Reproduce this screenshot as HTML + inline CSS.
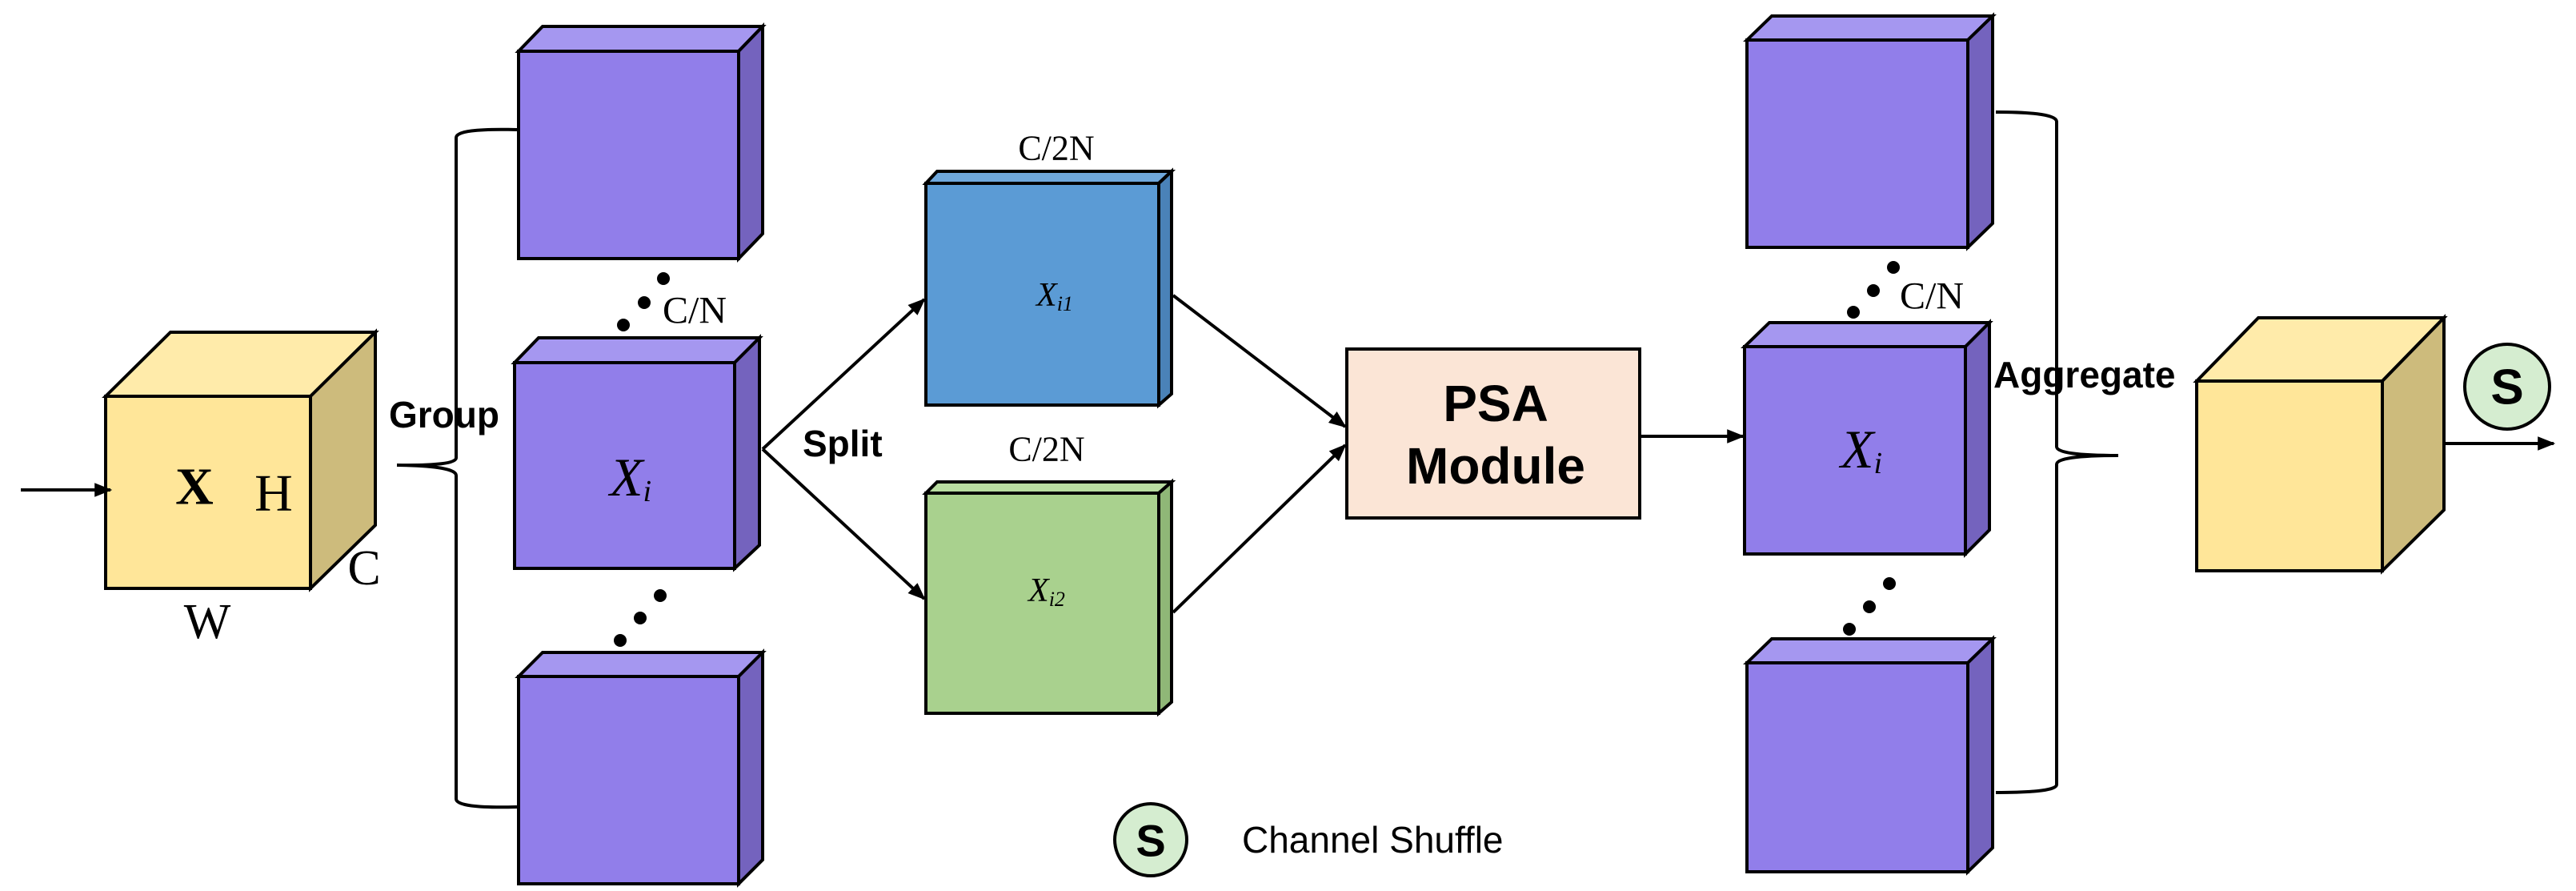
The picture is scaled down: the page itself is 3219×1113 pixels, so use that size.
<!DOCTYPE html>
<html><head><meta charset="utf-8"><style>html,body{margin:0;padding:0;background:#fff}svg{display:block}</style></head><body>
<svg width="3219" height="1113" viewBox="0 0 3219 1113" xmlns="http://www.w3.org/2000/svg">
<defs>
<marker id="ah" viewBox="0 0 10 10" refX="9" refY="5" markerWidth="8" markerHeight="8" markerUnits="userSpaceOnUse" orient="auto"><path d="M0,0 L10,5 L0,10 z" fill="#000"/></marker>
<marker id="ah2" viewBox="0 0 10 10" refX="9" refY="5" markerWidth="22" markerHeight="22" markerUnits="userSpaceOnUse" orient="auto"><path d="M0,1 L10,5 L0,9 z" fill="#000"/></marker>
</defs>
<g stroke="#000" stroke-width="4" stroke-linejoin="miter">
<!-- left yellow cube -->
<polygon points="132,495 213,415 469,415 388,495" fill="#FFEBAA"/>
<polygon points="388,495 469,415 469,656 388,735" fill="#CDBB7C"/>
<rect x="132" y="495" width="256" height="240" fill="#FFE699"/>
<!-- purple boxes left -->
<polygon points="648,64 678,33 953,33 923,64" fill="#A597F0"/>
<polygon points="923,64 953,33 953,292 923,323" fill="#7463BE"/>
<rect x="648" y="64" width="275" height="259" fill="#917EEA"/>
<polygon points="643,453 673,422 949,422 918,453" fill="#A597F0"/>
<polygon points="918,453 949,422 949,681 918,710" fill="#7463BE"/>
<rect x="643" y="453" width="275" height="257" fill="#917EEA"/>
<polygon points="648,845 678,815 953,815 923,845" fill="#A597F0"/>
<polygon points="923,845 953,815 953,1074 923,1104" fill="#7463BE"/>
<rect x="648" y="845" width="275" height="259" fill="#917EEA"/>
<!-- blue / green -->
<polygon points="1157,229 1171,214 1464,214 1448,229" fill="#6FA8DC"/>
<polygon points="1448,229 1464,214 1464,492 1448,506" fill="#4A82B8"/>
<rect x="1157" y="229" width="291" height="277" fill="#5B9BD5"/>
<polygon points="1157,616 1171,602 1464,602 1448,616" fill="#B8DCA0"/>
<polygon points="1448,616 1464,602 1464,877 1448,891" fill="#8FB777"/>
<rect x="1157" y="616" width="291" height="275" fill="#A9D18E"/>
<!-- PSA -->
<rect x="1683" y="436" width="366" height="211" fill="#FBE5D6"/>
<!-- right purple -->
<polygon points="2183,50 2214,20 2490,20 2459,50" fill="#A597F0"/>
<polygon points="2459,50 2490,20 2490,279 2459,309" fill="#7463BE"/>
<rect x="2183" y="50" width="276" height="259" fill="#917EEA"/>
<polygon points="2180,433 2211,403 2486,403 2456,433" fill="#A597F0"/>
<polygon points="2456,433 2486,403 2486,662 2456,692" fill="#7463BE"/>
<rect x="2180" y="433" width="276" height="259" fill="#917EEA"/>
<polygon points="2183,828 2214,798 2490,798 2459,828" fill="#A597F0"/>
<polygon points="2459,828 2490,798 2490,1059 2459,1089" fill="#7463BE"/>
<rect x="2183" y="828" width="276" height="261" fill="#917EEA"/>
<!-- right yellow cube -->
<polygon points="2745,476 2822,397 3054,397 2977,476" fill="#FFEBAA"/>
<polygon points="2977,476 3054,397 3054,637 2977,713" fill="#CDBB7C"/>
<rect x="2745" y="476" width="232" height="237" fill="#FFE699"/>
</g>
<!-- connectors -->
<g stroke="#000" stroke-width="4" fill="none">
<line x1="26" y1="612" x2="138" y2="612" marker-end="url(#ah2)"/>
<path d="M646,162 Q570,160 570,172 L570,572 Q570,582 496,581 Q570,582 570,594 L570,998 Q570,1010 646,1008"/>
<line x1="953" y1="561" x2="1155" y2="374" marker-end="url(#ah2)"/>
<line x1="953" y1="561" x2="1155" y2="748" marker-end="url(#ah2)"/>
<line x1="1466" y1="369" x2="1681" y2="533" marker-end="url(#ah2)"/>
<line x1="1466" y1="765" x2="1681" y2="556" marker-end="url(#ah2)"/>
<line x1="2049" y1="545" x2="2178" y2="545" marker-end="url(#ah2)"/>
<path d="M2494,140 Q2570,140 2570,152 L2570,558 Q2570,569 2647,569 Q2570,569 2570,580 L2570,980 Q2570,990 2494,990"/>
<line x1="3054" y1="554" x2="3191" y2="554" marker-end="url(#ah2)"/>
</g>
<!-- dots -->
<g fill="#000">
<circle cx="779" cy="406" r="8"/><circle cx="805" cy="378" r="8"/><circle cx="829" cy="348" r="8"/>
<circle cx="775" cy="800" r="8"/><circle cx="800" cy="772" r="8"/><circle cx="825" cy="744" r="8"/>
<circle cx="2316" cy="390" r="8"/><circle cx="2341" cy="363" r="8"/><circle cx="2366" cy="334" r="8"/>
<circle cx="2311" cy="786" r="8"/><circle cx="2336" cy="758" r="8"/><circle cx="2361" cy="729" r="8"/>
</g>
<!-- circles -->
<circle cx="1438" cy="1049" r="45" fill="#D5EDD0" stroke="#000" stroke-width="4"/>
<circle cx="3133" cy="483" r="53" fill="#D5EDD0" stroke="#000" stroke-width="4"/>
<!-- text -->
<g font-family="'Liberation Serif', serif" fill="#000" dominant-baseline="central" text-anchor="middle">
<text x="243" y="608" font-size="66" font-weight="bold">X</text>
<text x="342" y="616" font-size="66">H</text>
<text x="455" y="710" font-size="62">C</text>
<text x="259" y="777" font-size="62">W</text>
<text x="868" y="388" font-size="48">C/N</text>
<text x="2414" y="370" font-size="48">C/N</text>
<text x="1320" y="185" font-size="44">C/2N</text>
<text x="1308" y="561" font-size="44">C/2N</text>
<text x="788" y="596" font-size="68" font-style="italic">X<tspan font-size="38" dy="18">i</tspan></text>
<text x="2326" y="561" font-size="68" font-style="italic">X<tspan font-size="38" dy="18">i</tspan></text>
<text x="1318" y="369" font-size="42" font-style="italic">X<tspan font-size="26" dy="10">i1</tspan></text>
<text x="1308" y="738" font-size="42" font-style="italic">X<tspan font-size="26" dy="10">i2</tspan></text>
</g>
<g font-family="'Liberation Sans', sans-serif" fill="#000" dominant-baseline="central">
<text x="486" y="518" font-size="46" font-weight="bold">Group</text>
<text x="1003" y="554" font-size="46" font-weight="bold">Split</text>
<text x="2491" y="468" font-size="46" font-weight="bold">Aggregate</text>
<text x="1869" y="504" font-size="64" font-weight="bold" text-anchor="middle">PSA</text>
<text x="1869" y="582" font-size="64" font-weight="bold" text-anchor="middle">Module</text>
<text x="1438" y="1050" font-size="56" font-weight="bold" text-anchor="middle">S</text>
<text x="3133" y="484" font-size="62" font-weight="bold" text-anchor="middle">S</text>
<text x="1552" y="1049" font-size="46">Channel Shuffle</text>
</g>
</svg>
</body></html>
